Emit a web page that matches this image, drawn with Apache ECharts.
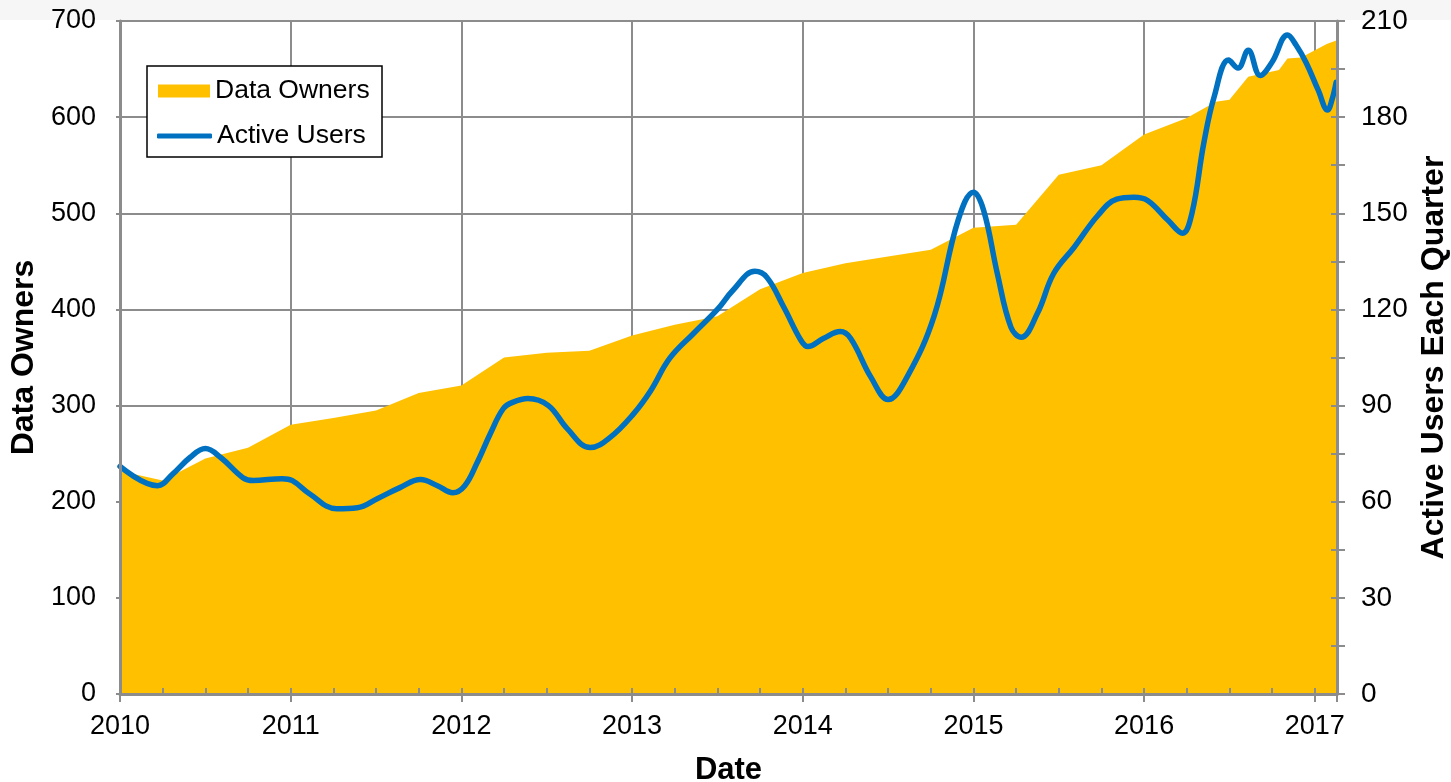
<!DOCTYPE html>
<html>
<head>
<meta charset="utf-8">
<script src="https://cdn.jsdelivr.net/npm/echarts@6/dist/echarts.min.js"></script>
<style>
  html, body { margin: 0; padding: 0; background: #fff; }
  #chart { width: 1451px; height: 782px; }
</style>
</head>
<body>
<div id="chart"></div>
<script>
// Data Owners (left axis), read at roughly quarterly steps
var ownerYears = [2010.0, 2010.25, 2010.5, 2010.75, 2011.0, 2011.25, 2011.5, 2011.75,
    2012.0, 2012.25, 2012.5, 2012.75, 2013.0, 2013.25, 2013.5, 2013.75,
    2014.0, 2014.25, 2014.5, 2014.75, 2015.0, 2015.25, 2015.5, 2015.75,
    2016.0, 2016.25, 2016.42, 2016.5, 2016.61, 2016.79, 2016.84, 2016.92, 2017.07, 2017.13];
var ownerCounts = [232, 222, 245, 256, 280, 287, 295, 313,
    321, 350, 355, 357, 373, 384, 393, 421,
    438, 448, 455, 462, 485, 488, 540, 550,
    582, 599, 616, 618, 642, 649, 661, 662, 676, 680];

// Active Users Each Quarter (right axis)
var userYears = [2010.0, 2010.22, 2010.31, 2010.41, 2010.5, 2010.59, 2010.72, 2010.78, 2010.95,
    2011.01, 2011.11, 2011.27, 2011.39, 2011.51, 2011.64, 2011.76, 2011.86, 2011.95,
    2012.02, 2012.09, 2012.17, 2012.245, 2012.3, 2012.39, 2012.51, 2012.62, 2012.755, 2012.87,
    2013.01, 2013.11, 2013.22, 2013.36, 2013.5, 2013.59, 2013.72, 2013.79, 2013.89, 2013.99,
    2014.03, 2014.12, 2014.22, 2014.28, 2014.4, 2014.5, 2014.61, 2014.77, 2014.91,
    2015.0, 2015.06, 2015.14, 2015.22, 2015.28, 2015.375, 2015.47, 2015.59, 2015.73, 2015.84, 2015.94,
    2016.02, 2016.14, 2016.225, 2016.28, 2016.35, 2016.41, 2016.495, 2016.55, 2016.61, 2016.68,
    2016.75, 2016.84, 2016.89, 2016.95, 2017.02, 2017.075, 2017.1, 2017.125];
var userCounts = [71, 65, 68.7, 73.8, 76.6, 73.8, 67.5, 66.6, 67.2,
    66.6, 62.5, 57.8, 58.1, 61, 64.4, 66.9, 65, 62.8,
    65, 71.9, 81.3, 89, 91, 92.2, 90, 82.8, 76.9, 80,
    87.5, 94.7, 104.7, 112.5, 120, 125.9, 131.9, 130, 120.6, 110.3,
    108.4, 110.9, 113.1, 111, 98.8, 91.9, 98.8, 118, 147.8,
    156.6, 150.9, 131.2, 114.4, 111.3, 118.8, 131.2, 139.4, 149.4, 154.4, 155,
    154, 147.8, 143.8, 150, 172, 186.3, 197.8, 195.3, 200.9, 193,
    197.2, 205.6, 202.5, 196.9, 188.4, 182.2, 185.3, 190.9];

var xMin = 2010, xMax = 2017.13;
var fontFam = '"Liberation Sans", Arial, sans-serif';
var gridGray = '#8c8c8c';

function pairs(xs, ys) {
    return xs.map(function (x, i) { return [x, ys[i]]; });
}

var chart = echarts.init(document.getElementById('chart'));

var option = {
    animation: false,
    backgroundColor: '#fff',
    textStyle: { fontFamily: fontFam, color: '#000' },
    grid: { left: 120, right: 114, top: 21, bottom: 88, containLabel: false, outerBoundsMode: 'none' },
    graphic: [
        { type: 'rect', z: -1, shape: { x: 0, y: 0, width: 1451, height: 20 }, style: { fill: '#f6f6f6' } },
        { type: 'rect', z: 4, shape: { x: 147, y: 66, width: 235, height: 91 },
          style: { fill: '#fff', stroke: '#000', lineWidth: 1.5 } }
    ],
    legend: [
        {
            data: [{ name: 'Data Owners', icon: 'rect' }],
            left: 158, top: 76, padding: 0, z: 6,
            itemWidth: 52, itemHeight: 13,
            textStyle: { fontSize: 26.5, lineHeight: 30, color: '#000', fontFamily: fontFam }
        },
        {
            data: [{ name: 'Active Users', icon: 'roundRect' }],
            left: 157, top: 121, padding: 0, z: 6,
            itemWidth: 55, itemHeight: 5,
            textStyle: { fontSize: 26.5, lineHeight: 30, color: '#000', fontFamily: fontFam }
        }
    ],
    xAxis: [
        {
            type: 'value', min: xMin, max: xMax, interval: 1,
            name: 'Date', nameLocation: 'middle', nameGap: 61,
            nameTextStyle: { fontSize: 31, fontWeight: 'bold', color: '#000', fontFamily: fontFam },
            axisLine: { show: false },
            axisTick: { show: true, length: 8, lineStyle: { color: gridGray, width: 2 } },
            axisLabel: {
                margin: 19, fontSize: 27, color: '#000', fontFamily: fontFam,
                formatter: function (v) { return Number.isInteger(v) ? String(v) : ''; }
            },
            splitLine: { show: true, lineStyle: { color: gridGray, width: 2 } }
        },
        {
            type: 'value', min: xMin, max: xMax, interval: 0.25, position: 'bottom', z: 5,
            axisLine: { show: true, lineStyle: { color: gridGray, width: 3 } },
            axisTick: { show: true, inside: true, length: 6, lineStyle: { color: gridGray, width: 2 } },
            axisLabel: { show: false },
            splitLine: { show: false }
        }
    ],
    yAxis: [
        {
            type: 'value', min: 0, max: 700, interval: 100, position: 'left',
            name: 'Data Owners', nameLocation: 'middle', nameGap: 72,
            nameTextStyle: { fontSize: 32, fontWeight: 'bold', color: '#000', fontFamily: fontFam },
            axisLine: { show: false },
            axisTick: { show: false },
            axisLabel: { margin: 24, fontSize: 27, color: '#000', fontFamily: fontFam },
            splitLine: { show: true, lineStyle: { color: gridGray, width: 2 } }
        },
        {
            type: 'value', min: 0, max: 210, interval: 15, position: 'right', z: 5,
            name: 'Active Users Each Quarter', nameLocation: 'middle', nameGap: 78,
            nameTextStyle: { fontSize: 32, fontWeight: 'bold', color: '#000', fontFamily: fontFam },
            axisLine: { show: true, lineStyle: { color: gridGray, width: 3 } },
            axisTick: { show: true, length: 8, lineStyle: { color: gridGray, width: 2 } },
            axisLabel: {
                margin: 24, fontSize: 28, color: '#000', fontFamily: fontFam,
                formatter: function (v) { return v % 30 === 0 ? String(v) : ''; }
            },
            splitLine: { show: false }
        },
        {
            type: 'value', min: 0, max: 700, interval: 100, position: 'left', z: 5,
            axisLine: { show: true, lineStyle: { color: gridGray, width: 3 } },
            axisTick: { show: true, length: 4, lineStyle: { color: gridGray, width: 2 } },
            axisLabel: { show: false },
            splitLine: { show: false }
        },
        {
            type: 'value', min: 0, max: 210, interval: 15, position: 'right', z: 5,
            axisLine: { show: false },
            axisTick: { show: true, inside: true, length: 6, lineStyle: { color: gridGray, width: 2 } },
            axisLabel: { show: false },
            splitLine: { show: false }
        }
    ],
    series: [
        {
            name: 'Data Owners',
            type: 'line',
            xAxisIndex: 0, yAxisIndex: 0,
            data: pairs(ownerYears, ownerCounts),
            symbol: 'none',
            lineStyle: { width: 0, color: '#FFC000' },
            itemStyle: { color: '#FFC000' },
            areaStyle: { color: '#FFC000', opacity: 1 },
            z: 2
        },
        {
            name: 'Active Users',
            type: 'line',
            xAxisIndex: 0, yAxisIndex: 1,
            data: pairs(userYears, userCounts),
            symbol: 'none',
            smooth: 0.4,
            lineStyle: { width: 5.5, color: '#0070C0', cap: 'round', join: 'round' },
            itemStyle: { color: '#0070C0' },
            z: 3
        }
    ]
};

chart.setOption(option);
</script>
</body>
</html>
